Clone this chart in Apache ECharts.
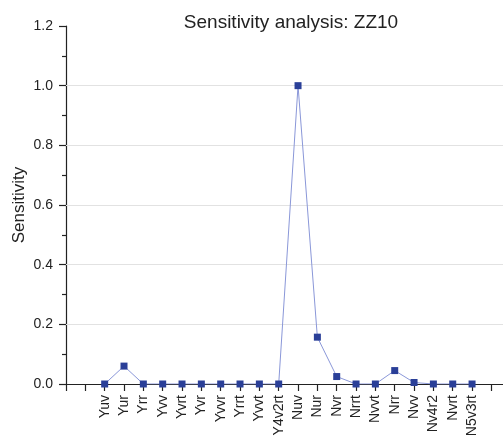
<!DOCTYPE html>
<html>
<head>
<meta charset="utf-8">
<script src="https://cdn.jsdelivr.net/npm/echarts@6/dist/echarts.min.js"></script>
<style>html,body{margin:0;padding:0;background:#fff}#c{width:503px;height:439px}</style>
</head>
<body>
<div id="c"></div>
<script>
var categories = ['Yuv','Yur','Yrr','Yvv','Yvrt','Yvr','Yvvr','Yrrt','Yvvt','Y4v2rt','Nuv','Nur','Nvr','Nrrt','Nvvt','Nrr','Nvv','Nv4r2','Nvrt','N5v3rt'];
var sensitivity = [0, 0.06, 0, 0, 0, 0, 0, 0, 0, 0, 1.0, 0.157, 0.025, 0, 0, 0.045, 0.005, 0, 0, 0];
var yTicks = [0, 0.2, 0.4, 0.6, 0.8, 1.0, 1.2];
var gridValues = [0.2, 0.4, 0.6, 0.8, 1.0];
var titleText = 'Sensitivity analysis: ZZ10';
var yName = 'Sensitivity';

var offset = 2; // first category sits at position 2 on the x scale
var xTickPositions = [];
for (var k = 0; k <= categories.length + 2; k++) xTickPositions.push(k);
var labelPositions = categories.map(function (c, i) { return i + offset; });
var seriesData = sensitivity.map(function (v, i) { return [i + offset, v]; });

var font = 'Liberation Sans, Arial, sans-serif';
var chart = echarts.init(document.getElementById('c'), null, {renderer: 'canvas'});
chart.setOption({
  animation: false,
  backgroundColor: '#fff',
  title: {
    text: titleText, left: 286, top: 8, textAlign: 'center',
    textStyle: {fontFamily: font, fontSize: 19, fontWeight: 'normal', color: '#222'}
  },
  grid: {left: 66, right: 0, top: 26, bottom: 55, containLabel: false, outerBoundsMode: 'none'},
  xAxis: {
    type: 'value', min: 0, max: 22.6,
    axisLine: {onZero: false, lineStyle: {color: '#222', width: 1.2}},
    axisTick: {show: true, inside: false, length: 7, customValues: xTickPositions, lineStyle: {color: '#222', width: 1.2}},
    axisLabel: {
      customValues: labelPositions, rotate: 90, margin: 11,
      fontFamily: font, fontSize: 14, color: '#222',
      formatter: function (v) { var i = Math.round(v) - offset; return categories[i] || ''; }
    },
    splitLine: {show: false}
  },
  yAxis: {
    type: 'value', min: 0, max: 1.2, interval: 0.2,
    name: yName, nameLocation: 'middle', nameRotate: 90, nameGap: 38, nameMoveOverlap: false,
    nameTextStyle: {fontFamily: font, fontSize: 17, color: '#222'},
    axisLine: {show: true, onZero: false, lineStyle: {color: '#222', width: 1.2}},
    axisTick: {show: true, inside: false, length: 7, lineStyle: {color: '#222', width: 1.2}},
    minorTick: {show: true, splitNumber: 2, length: 4, lineStyle: {color: '#222', width: 1.2}},
    axisLabel: {
      customValues: yTicks, margin: 13,
      fontFamily: font, fontSize: 14, color: '#222',
      formatter: function (v) { return v.toFixed(1); }
    },
    splitLine: {show: false}
  },
  series: [{
    type: 'line',
    data: seriesData,
    symbol: 'rect', symbolSize: 7,
    itemStyle: {color: '#2a3f98'},
    lineStyle: {color: '#8a97d8', width: 1},
    z: 3,
    markLine: {
      silent: true, symbol: 'none', label: {show: false},
      lineStyle: {color: '#e2e2e2', type: 'solid', width: 1},
      data: gridValues.map(function (v) { return {yAxis: v}; }),
      z: 1
    }
  }]
});
</script>
</body>
</html>
